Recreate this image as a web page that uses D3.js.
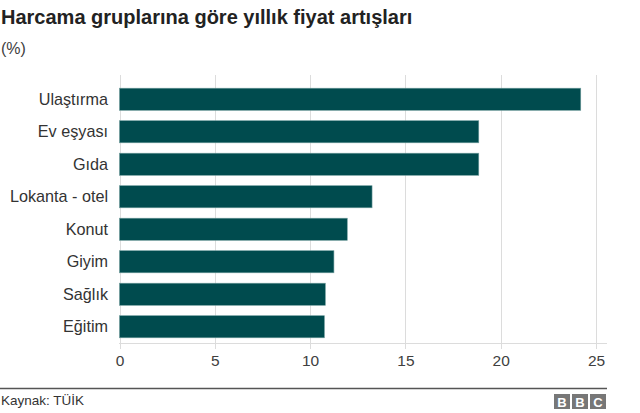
<!DOCTYPE html>
<html><head><meta charset="utf-8">
<script src="https://cdn.jsdelivr.net/npm/d3@7"></script>
<style>body{margin:0;background:#fff;}svg{display:block;font-family:Arial,"Liberation Sans",Helvetica,sans-serif;}</style>
</head><body><svg id="c" width="640" height="413"></svg>
<script>
const categories = ["Ulaştırma","Ev eşyası","Gıda","Lokanta - otel","Konut","Giyim","Sağlık","Eğitim"];
const values = [24.2,18.85,18.85,13.25,11.95,11.25,10.8,10.75];
const tickValues = [0,5,10,15,20,25];
const title = "Harcama gruplarına göre yıllık fiyat artışları";
const subtitle = "(%)";
const source = "Kaynak: TÜİK";

const svg = d3.select("#c");
const x = d3.scaleLinear().domain([0,25]).range([119.5,596]);
const y = d3.scaleBand().domain(categories).range([83,343]).paddingInner(0.32).paddingOuter(0.16);

svg.append("text").attr("x",1).attr("y",24).attr("font-size",20).attr("font-weight","bold").attr("fill","#222").text(title);
svg.append("text").attr("x",1).attr("y",54).attr("font-size",16).attr("fill","#404040").text(subtitle);

// grid
svg.append("g").selectAll("line").data(tickValues).join("line")
  .attr("x1",d=>Math.round(x(d))+0.5).attr("x2",d=>Math.round(x(d))+0.5)
  .attr("y1",75).attr("y2",349).attr("stroke","#dcdcdc").attr("stroke-width",1);
svg.append("line").attr("x1",119).attr("x2",607).attr("y1",343.5).attr("y2",343.5).attr("stroke","#dcdcdc");

// bars
svg.append("g").selectAll("rect").data(categories).join("rect")
  .attr("x",x(0)).attr("y",d=>y(d)).attr("width",(d,i)=>x(values[i])-x(0)).attr("height",y.bandwidth())
  .attr("fill","#004b4e").attr("stroke","#6e9c9c").attr("stroke-width",0.6);

// category labels
svg.append("g").selectAll("text").data(categories).join("text")
  .attr("x",108).attr("y",d=>y(d)+y.bandwidth()/2).attr("dy","0.35em").attr("text-anchor","end")
  .attr("font-size",16.2).attr("fill","#333").text(d=>d);

// x axis
const ax = svg.append("g").attr("transform","translate(0,343)")
  .call(d3.axisBottom(x).tickValues(tickValues).tickSize(0).tickPadding(12));
ax.select(".domain").remove();
ax.selectAll("text").attr("font-size",15.5).attr("fill","#404040").attr("font-family","Arial,'Liberation Sans',sans-serif");

// footer
svg.append("line").attr("x1",0).attr("x2",607).attr("y1",388.5).attr("y2",388.5).attr("stroke","#555").attr("stroke-width",1.3);
svg.append("text").attr("x",1).attr("y",405).attr("font-size",13.5).attr("fill","#333").text(source);
const letters = ["B","B","C"];
const lg = svg.append("g");
letters.forEach((l,i)=>{
  const bx = 554 + i*18;
  lg.append("rect").attr("x",bx).attr("y",394).attr("width",16).attr("height",15).attr("fill","#777");
  lg.append("text").attr("x",bx+8).attr("y",406.5).attr("text-anchor","middle").attr("font-size",13).attr("font-weight","bold").attr("fill","#fff").text(l);
});
</script></body></html>
